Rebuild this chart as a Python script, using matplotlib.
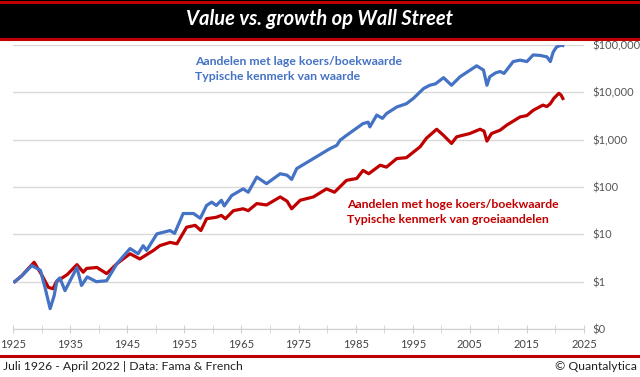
import numpy as np
import matplotlib.pyplot as plt
from matplotlib.patches import Rectangle
from matplotlib.lines import Line2D
from matplotlib.ticker import FixedLocator, MultipleLocator

plt.rcParams['font.family'] = ['Lato', 'DejaVu Sans']

# growth of $1 (year positions as drawn on the axis)
value_years = [1925.3, 1926.5, 1928.3, 1929.8, 1930.6, 1931.5, 1932.2, 1932.7, 1933.2, 1934.1,
               1936.2, 1937.0, 1938.0, 1939.6, 1941.4, 1943.2, 1945.5, 1946.9, 1947.8, 1948.4,
               1950.2, 1952.5, 1953.3, 1954.8, 1956.6, 1957.8, 1958.9, 1959.8, 1960.6, 1961.5,
               1962.0, 1963.3, 1965.3, 1966.2, 1967.7, 1969.4, 1971.8, 1973.0, 1973.8, 1974.7,
               1977.6, 1980.5, 1981.7, 1982.3, 1983.4, 1986.3, 1987.2, 1987.5, 1988.7, 1989.7,
               1990.4, 1992.2, 1993.9, 1995.1, 1996.9, 1998.0, 1999.0, 2000.4, 2001.8, 2003.3,
               2006.2, 2007.4, 2008.0, 2008.5, 2009.5, 2010.3, 2011.0, 2012.6, 2013.8, 2015.0,
               2016.1, 2017.3, 2018.5, 2019.1, 2019.6, 2020.2, 2021.1, 2021.3]
value_log = [0.00, 0.12, 0.34, 0.24, -0.12, -0.57, -0.30, 0.02, 0.08, -0.19,
             0.30, -0.08, 0.10, 0.00, 0.02, 0.38, 0.70, 0.59, 0.76, 0.66,
             1.01, 1.08, 1.02, 1.44, 1.44, 1.34, 1.61, 1.68, 1.61, 1.72,
             1.60, 1.82, 1.96, 1.89, 2.21, 2.07, 2.28, 2.25, 2.16, 2.39,
             2.60, 2.81, 2.88, 2.99, 3.09, 3.34, 3.37, 3.27, 3.52, 3.45,
             3.55, 3.69, 3.76, 3.87, 4.08, 4.15, 4.18, 4.31, 4.15, 4.33,
             4.56, 4.47, 4.15, 4.33, 4.41, 4.44, 4.40, 4.65, 4.68, 4.65,
             4.79, 4.78, 4.75, 4.65, 4.85, 4.96, 5.00, 4.99]

growth_years = [1925.3, 1926.5, 1928.7, 1930.0, 1931.2, 1932.0, 1932.6, 1934.5, 1936.2, 1937.3,
                1937.9, 1939.7, 1941.4, 1943.2, 1945.5, 1946.9, 1947.2, 1949.6, 1950.7, 1952.5,
                1953.7, 1955.4, 1956.9, 1957.9, 1958.9, 1960.6, 1961.5, 1962.2, 1963.6, 1965.3,
                1966.2, 1967.7, 1969.4, 1971.8, 1973.0, 1973.8, 1975.3, 1977.6, 1979.9, 1981.3,
                1983.4, 1985.2, 1986.3, 1987.3, 1989.3, 1990.4, 1992.2, 1993.9, 1996.3, 1997.4,
                1999.2, 2000.4, 2001.8, 2002.7, 2005.0, 2006.8, 2007.5, 2008.0, 2008.8, 2010.3,
                2011.5, 2013.8, 2015.0, 2016.1, 2017.8, 2018.5, 2019.1, 2019.7, 2020.6, 2021.0,
                2021.3]
growth_log = [0.00, 0.12, 0.41, 0.15, -0.12, -0.15, 0.00, 0.15, 0.36, 0.20,
              0.28, 0.30, 0.17, 0.38, 0.59, 0.50, 0.48, 0.66, 0.76, 0.83,
              0.80, 1.15, 1.19, 1.08, 1.33, 1.36, 1.40, 1.33, 1.50, 1.54,
              1.50, 1.65, 1.62, 1.79, 1.70, 1.54, 1.72, 1.79, 1.96, 1.89,
              2.14, 2.18, 2.35, 2.28, 2.46, 2.42, 2.60, 2.62, 2.85, 3.03,
              3.22, 3.09, 2.92, 3.06, 3.13, 3.22, 3.18, 2.97, 3.13, 3.20,
              3.31, 3.48, 3.51, 3.62, 3.73, 3.70, 3.76, 3.87, 3.98, 3.94,
              3.87]

ytick_vals = [0.1, 1, 10, 100, 1000, 10000, 100000]
ytick_labels = ["$0", "$1", "$10", "$100", "$1,000", "$10,000", "$100,000"]
xtick_vals = list(range(1925, 2026, 10))

BLUE = "#4472C4"
RED = "#C00000"

fig = plt.figure(figsize=(6.4, 3.77), dpi=100)

# title bar
fig.add_artist(Rectangle((0, 1 - 39 / 377), 1, 39 / 377, transform=fig.transFigure,
                         facecolor="black", edgecolor="none"))
for yy in [1 - 1.5 / 377, 1 - 38.5 / 377]:
    fig.add_artist(Line2D([0, 1], [yy, yy], transform=fig.transFigure, color=RED, lw=2.2))
fig.text(0.5, 1 - 19 / 377, "Value vs. growth op Wall Street", color="white",
         fontsize=14.5, fontweight="bold", fontstyle="italic", ha="center", va="center")

# footer
fig.add_artist(Line2D([0, 1], [1 - 356 / 377] * 2, transform=fig.transFigure, color=RED, lw=2.2))
fig.text(0.005, 1 - 367 / 377, "Juli 1926 - April 2022 | Data: Fama & French",
         fontsize=8.8, color="#222222", ha="left", va="center")
fig.text(0.995, 1 - 367 / 377, "\u00a9 Quantalytica",
         fontsize=8.8, color="#222222", ha="right", va="center")

ax = fig.add_axes([13 / 640, 1 - 329 / 377, 571 / 640, 284 / 377])
ax.set_yscale("log")
ax.set_ylim(0.1, 100000)
ax.set_xlim(1925, 2025)

ax.plot(growth_years, 10 ** np.array(growth_log), color=RED, lw=2.3, solid_joinstyle="round")
ax.plot(value_years, 10 ** np.array(value_log), color=BLUE, lw=2.3, solid_joinstyle="round")

for s in ["top", "left", "right"]:
    ax.spines[s].set_visible(False)
ax.spines["bottom"].set_color("#D0D0D0")

ax.yaxis.set_major_locator(FixedLocator(ytick_vals))
ax.yaxis.set_minor_locator(FixedLocator([]))
ax.set_yticks(ytick_vals, ytick_labels)
ax.yaxis.tick_right()
ax.tick_params(axis="y", length=0, pad=6, labelsize=8, labelcolor="#555555")
ax.grid(axis="y", color="#D9D9D9", lw=1)

ax.set_xticks(xtick_vals, [str(x) for x in xtick_vals])
ax.xaxis.set_minor_locator(MultipleLocator(5))
ax.tick_params(axis="x", which="both", direction="inout", length=6, color="#D0D0D0",
               labelsize=8, labelcolor="#444444", pad=4)

ax.text(1956.9, 10 ** 4.50, "Aandelen met lage koers/boekwaarde\nTypische kenmerk van waarde",
        color=BLUE, fontsize=8.8, fontweight="bold", ha="left", va="center", linespacing=1.45)
ax.text(1983.5, 10 ** 1.48, "Aandelen met hoge koers/boekwaarde\nTypische kenmerk van groeiaandelen",
        color=RED, fontsize=8.8, fontweight="bold", ha="left", va="center", linespacing=1.45)

fig.savefig("out.png", dpi=100)
